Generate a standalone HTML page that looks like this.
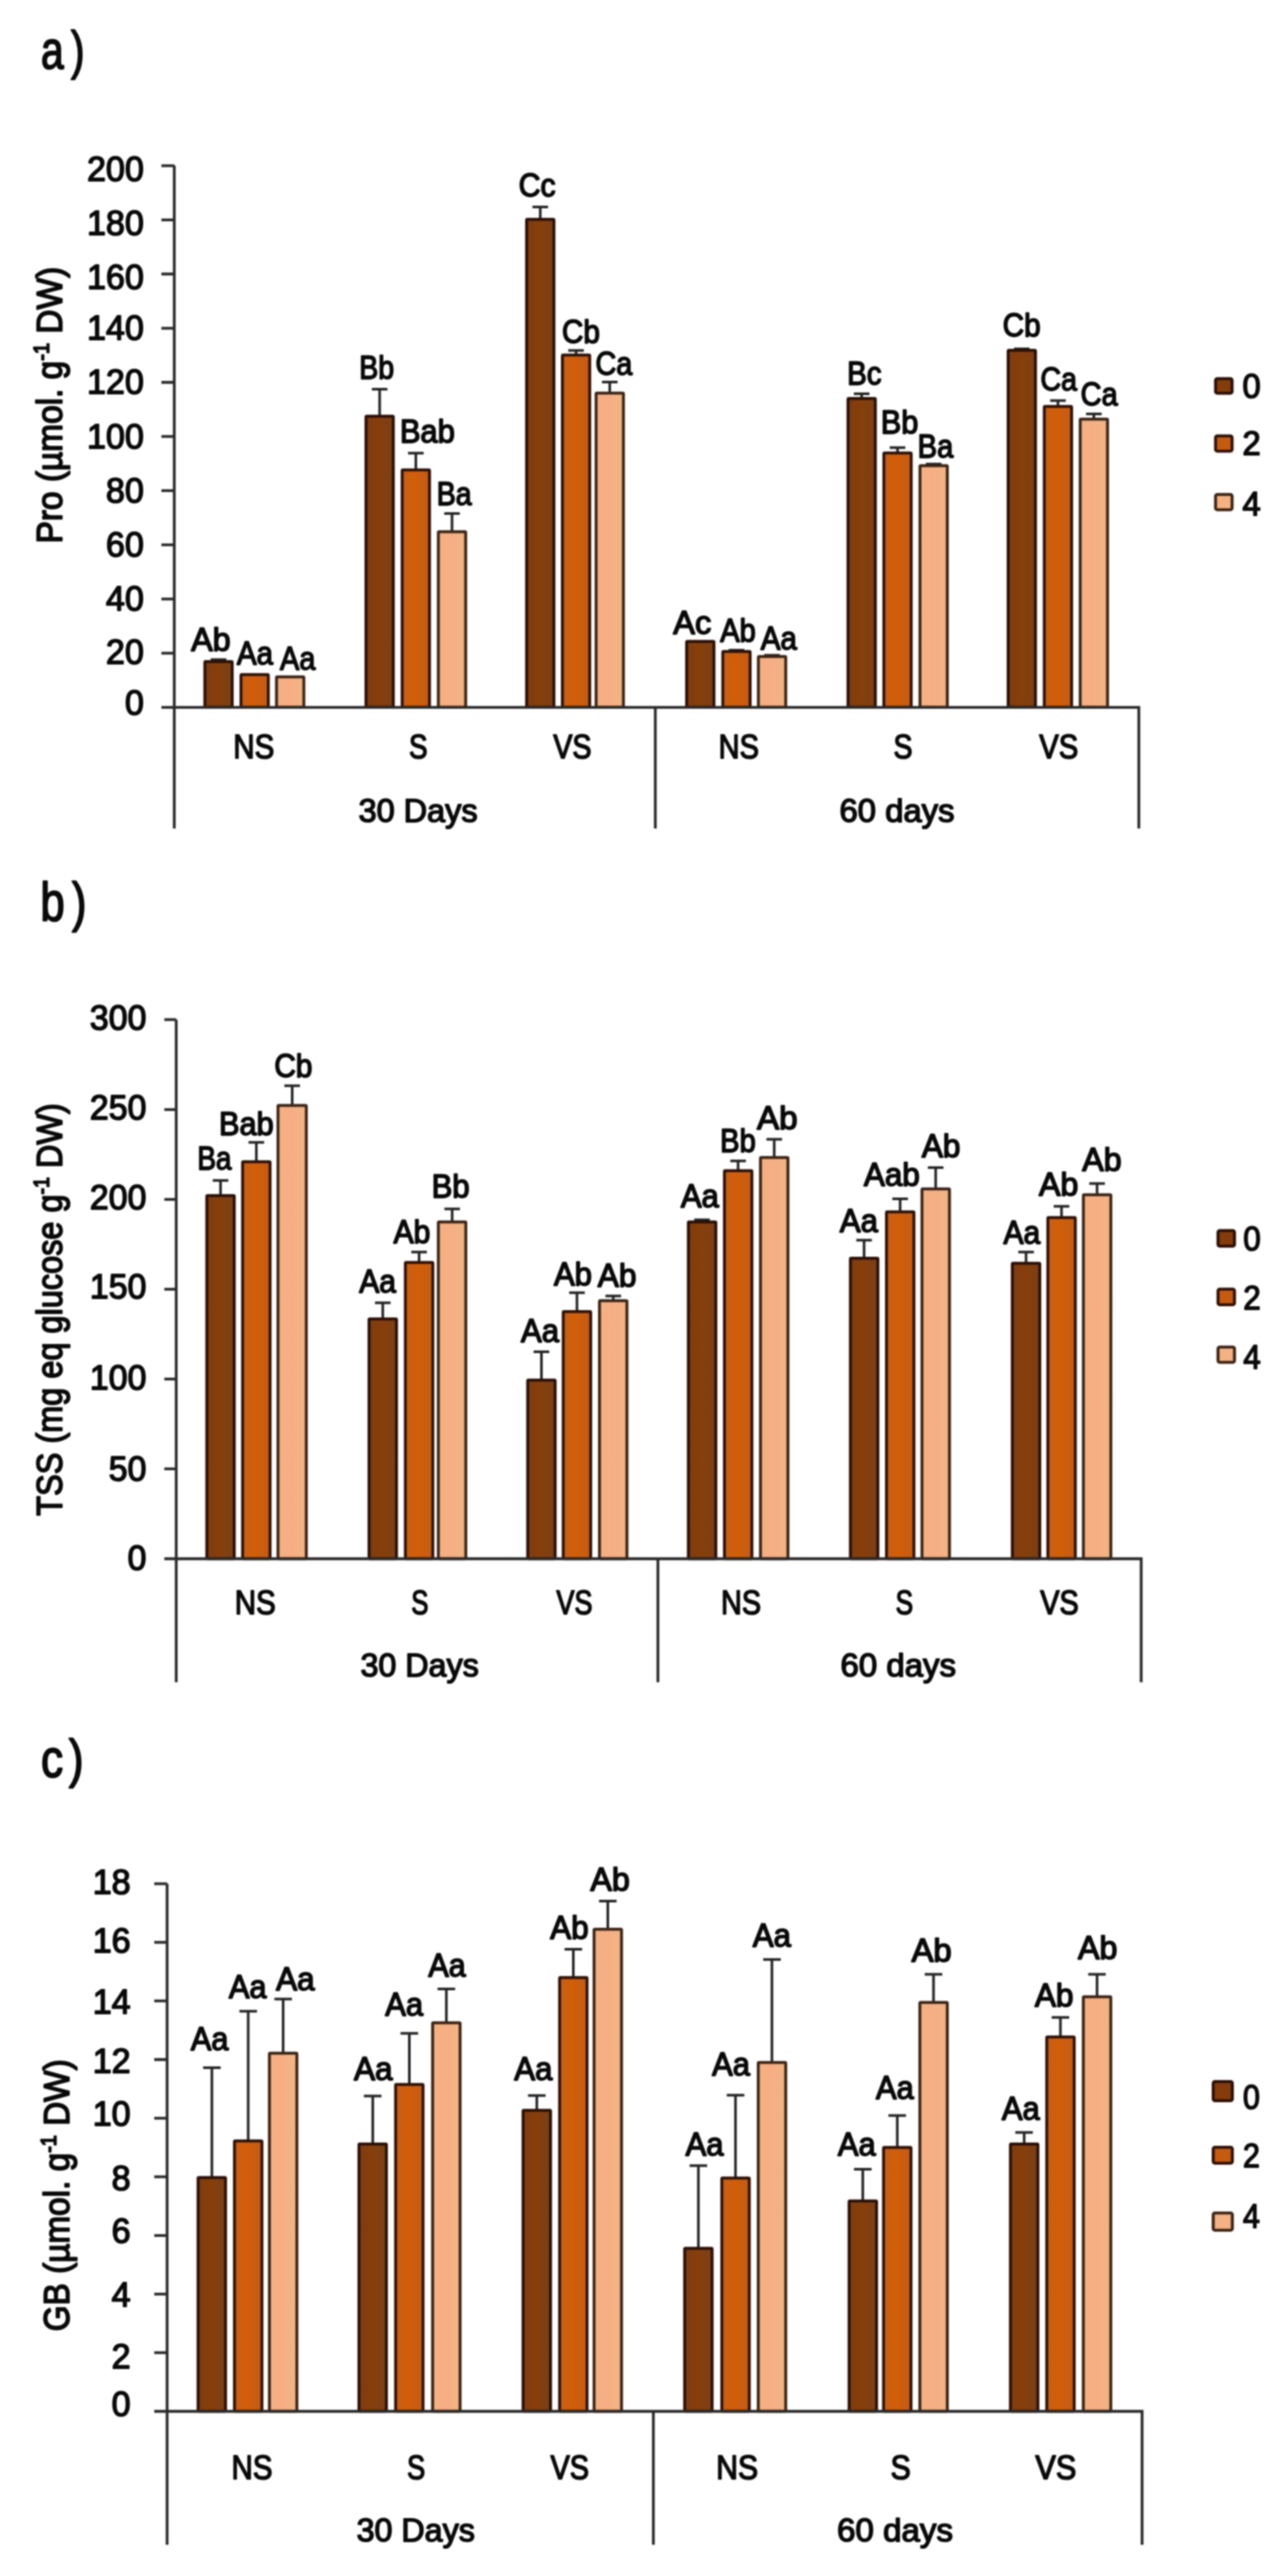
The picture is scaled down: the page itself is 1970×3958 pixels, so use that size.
<!DOCTYPE html>
<html lang="en"><head><meta charset="utf-8"><title>Pro, TSS and GB bar charts</title>
<style>
html,body{margin:0;padding:0;background:#fff;}
body{width:1970px;height:3958px;font-family:"Liberation Sans", sans-serif;}
svg{display:block;}
.t{font-family:"Liberation Sans", sans-serif;fill:#0a0a0a;stroke:#0a0a0a;stroke-width:2.2px;stroke-linejoin:round;}
.big{stroke-width:2.6px;}
.ax{fill:none;stroke:#2b2b2b;stroke-width:4.3;}
.eb{fill:none;stroke:#242424;stroke-width:4;}
.ttl{stroke-width:2.4px;}
.dl{stroke-width:2.3px;}
</style></head><body>
<svg width="1970" height="3958" viewBox="0 0 1970 3958">
<defs>
<linearGradient id="g0" x1="0" x2="1" y1="0" y2="0"><stop offset="0" stop-color="#7d3c12"/><stop offset="0.45" stop-color="#873f0a"/><stop offset="1" stop-color="#7a4018"/></linearGradient>
<linearGradient id="g1" x1="0" x2="1" y1="0" y2="0"><stop offset="0" stop-color="#c4601c"/><stop offset="0.4" stop-color="#d25e08"/><stop offset="1" stop-color="#c35d17"/></linearGradient>
<linearGradient id="g2" x1="0" x2="1" y1="0" y2="0"><stop offset="0" stop-color="#f2b283"/><stop offset="0.45" stop-color="#f7ad84"/><stop offset="1" stop-color="#f0b585"/></linearGradient>
<filter id="soft" filterUnits="userSpaceOnUse" x="0" y="0" width="1970" height="3958" color-interpolation-filters="sRGB"><feGaussianBlur stdDeviation="1.0"/></filter>
</defs>
<rect width="1970" height="3958" fill="#fff"/>
<g filter="url(#soft)">
<text class="t big" transform="translate(63.0,104.5) scale(0.765,1)" x="0 60.1" y="0" font-size="82">a)</text>
<text class="t big" transform="translate(62.0,1415.0) scale(0.81,1)" x="0 59.9" y="0" font-size="83">b)</text>
<text class="t big" transform="translate(63.0,2729.7) scale(0.83,1)" x="0 51.6" y="0" font-size="82">c)</text>
<text class="t ttl" transform="translate(95.0,835.0) rotate(-90)" font-size="55" textLength="425.0" lengthAdjust="spacingAndGlyphs">Pro (µmol. g<tspan font-size="33" dy="-20">-1</tspan><tspan dy="20"> </tspan>DW)</text>
<text class="t ttl" transform="translate(95.0,2329.0) rotate(-90)" font-size="55" textLength="634.0" lengthAdjust="spacingAndGlyphs">TSS (mg eq glucose g<tspan font-size="33" dy="-20">-1</tspan><tspan dy="20"> </tspan>DW)</text>
<text class="t ttl" transform="translate(106.0,3582.0) rotate(-90)" font-size="55" textLength="418.0" lengthAdjust="spacingAndGlyphs">GB (µmol. g<tspan font-size="33" dy="-20">-1</tspan><tspan dy="20"> </tspan>DW)</text>
<path class="eb" d="M335.8 1016.2V1013.5M323.8 1013.5h24.0"/>
<rect x="314.8" y="1016.5" width="42.0" height="70.3" rx="1.2" fill="url(#g0)" stroke="#2b0f06" stroke-width="4.5"/>
<rect x="370.3" y="1036.5" width="42.0" height="50.3" rx="1.2" fill="url(#g1)" stroke="#2f1106" stroke-width="4.5"/>
<rect x="424.9" y="1040.0" width="42.0" height="46.8" rx="1.2" fill="url(#g2)" stroke="#3d2415" stroke-width="4.5"/>
<path class="eb" d="M583.4 639.2V598.0M571.4 598.0h24.0"/>
<rect x="562.4" y="639.5" width="42.0" height="447.3" rx="1.2" fill="url(#g0)" stroke="#2b0f06" stroke-width="4.5"/>
<path class="eb" d="M639.0 721.8V696.3M627.0 696.3h24.0"/>
<rect x="618.0" y="722.1" width="42.0" height="364.7" rx="1.2" fill="url(#g1)" stroke="#2f1106" stroke-width="4.5"/>
<path class="eb" d="M694.6 816.6V789.0M682.6 789.0h24.0"/>
<rect x="673.6" y="816.9" width="42.0" height="269.9" rx="1.2" fill="url(#g2)" stroke="#3d2415" stroke-width="4.5"/>
<path class="eb" d="M830.2 336.9V318.0M818.2 318.0h24.0"/>
<rect x="809.2" y="337.1" width="42.0" height="749.6" rx="1.2" fill="url(#g0)" stroke="#2b0f06" stroke-width="4.5"/>
<path class="eb" d="M885.2 545.2V538.4M873.2 538.4h24.0"/>
<rect x="864.2" y="545.5" width="42.0" height="541.3" rx="1.2" fill="url(#g1)" stroke="#2f1106" stroke-width="4.5"/>
<path class="eb" d="M937.0 603.7V587.0M925.0 587.0h24.0"/>
<rect x="916.0" y="604.0" width="42.0" height="482.8" rx="1.2" fill="url(#g2)" stroke="#3d2415" stroke-width="4.5"/>
<rect x="1055.1" y="985.5" width="42.0" height="101.3" rx="1.2" fill="url(#g0)" stroke="#2b0f06" stroke-width="4.5"/>
<path class="eb" d="M1131.7 1000.7V999.0M1119.7 999.0h24.0"/>
<rect x="1110.7" y="1001.0" width="42.0" height="85.8" rx="1.2" fill="url(#g1)" stroke="#2f1106" stroke-width="4.5"/>
<path class="eb" d="M1186.4 1008.5V1006.7M1174.4 1006.7h24.0"/>
<rect x="1165.4" y="1008.8" width="42.0" height="78.0" rx="1.2" fill="url(#g2)" stroke="#3d2415" stroke-width="4.5"/>
<path class="eb" d="M1324.1 611.9V605.0M1312.1 605.0h24.0"/>
<rect x="1303.1" y="612.2" width="42.0" height="474.6" rx="1.2" fill="url(#g0)" stroke="#2b0f06" stroke-width="4.5"/>
<path class="eb" d="M1379.2 695.7V687.7M1367.2 687.7h24.0"/>
<rect x="1358.2" y="696.0" width="42.0" height="390.8" rx="1.2" fill="url(#g1)" stroke="#2f1106" stroke-width="4.5"/>
<path class="eb" d="M1434.7 715.2V713.0M1422.7 713.0h24.0"/>
<rect x="1413.7" y="715.5" width="42.0" height="371.3" rx="1.2" fill="url(#g2)" stroke="#3d2415" stroke-width="4.5"/>
<path class="eb" d="M1570.2 537.9V536.0M1558.2 536.0h24.0"/>
<rect x="1549.2" y="538.2" width="42.0" height="548.6" rx="1.2" fill="url(#g0)" stroke="#2b0f06" stroke-width="4.5"/>
<path class="eb" d="M1625.7 624.2V615.4M1613.7 615.4h24.0"/>
<rect x="1604.7" y="624.5" width="42.0" height="462.3" rx="1.2" fill="url(#g1)" stroke="#2f1106" stroke-width="4.5"/>
<path class="eb" d="M1680.9 643.7V636.0M1668.9 636.0h24.0"/>
<rect x="1659.9" y="644.0" width="42.0" height="442.8" rx="1.2" fill="url(#g2)" stroke="#3d2415" stroke-width="4.5"/>
<path class="ax" d="M267.8 254.3V1273.0M248.0 1086.8H1750.0V1273.0M1007.0 1086.8V1273.0"/>
<path class="ax" d="M248.0 1003.6H267.8M248.0 920.4H267.8M248.0 837.1H267.8M248.0 753.9H267.8M248.0 670.7H267.8M248.0 587.5H267.8M248.0 504.3H267.8M248.0 421.0H267.8M248.0 337.8H267.8M248.0 254.6H267.8"/>
<text class="t" x="191.9" y="1098.3" font-size="54" textLength="29.1" lengthAdjust="spacingAndGlyphs">0</text>
<text class="t" x="162.8" y="1019.7" font-size="54" textLength="58.2" lengthAdjust="spacingAndGlyphs">20</text>
<text class="t" x="162.8" y="937.5" font-size="54" textLength="58.2" lengthAdjust="spacingAndGlyphs">40</text>
<text class="t" x="162.8" y="854.5" font-size="54" textLength="58.2" lengthAdjust="spacingAndGlyphs">60</text>
<text class="t" x="162.8" y="772.3" font-size="54" textLength="58.2" lengthAdjust="spacingAndGlyphs">80</text>
<text class="t" x="133.7" y="688.7" font-size="54" textLength="87.3" lengthAdjust="spacingAndGlyphs">100</text>
<text class="t" x="133.7" y="605.2" font-size="54" textLength="87.3" lengthAdjust="spacingAndGlyphs">120</text>
<text class="t" x="133.7" y="522.4" font-size="54" textLength="87.3" lengthAdjust="spacingAndGlyphs">140</text>
<text class="t" x="133.7" y="444.0" font-size="54" textLength="87.3" lengthAdjust="spacingAndGlyphs">160</text>
<text class="t" x="133.7" y="360.5" font-size="54" textLength="87.3" lengthAdjust="spacingAndGlyphs">180</text>
<text class="t" x="133.7" y="277.6" font-size="54" textLength="87.3" lengthAdjust="spacingAndGlyphs">200</text>
<text class="t dl" x="293.8" y="1000.0" font-size="49.5" textLength="60.6" lengthAdjust="spacingAndGlyphs">Ab</text>
<text class="t dl" x="364.0" y="1021.0" font-size="49.5" textLength="55.5" lengthAdjust="spacingAndGlyphs">Aa</text>
<text class="t dl" x="430.3" y="1029.0" font-size="49.5" textLength="54.3" lengthAdjust="spacingAndGlyphs">Aa</text>
<text class="t dl" x="552.0" y="582.4" font-size="49.5" textLength="53.5" lengthAdjust="spacingAndGlyphs">Bb</text>
<text class="t dl" x="614.4" y="680.0" font-size="49.5" textLength="84.6" lengthAdjust="spacingAndGlyphs">Bab</text>
<text class="t dl" x="671.0" y="775.5" font-size="49.5" textLength="53.8" lengthAdjust="spacingAndGlyphs">Ba</text>
<text class="t dl" x="797.0" y="302.4" font-size="49.5" textLength="56.8" lengthAdjust="spacingAndGlyphs">Cc</text>
<text class="t dl" x="863.5" y="526.7" font-size="49.5" textLength="58.2" lengthAdjust="spacingAndGlyphs">Cb</text>
<text class="t dl" x="915.0" y="576.0" font-size="49.5" textLength="56.6" lengthAdjust="spacingAndGlyphs">Ca</text>
<text class="t dl" x="1034.6" y="974.4" font-size="49.5" textLength="58.4" lengthAdjust="spacingAndGlyphs">Ac</text>
<text class="t dl" x="1106.8" y="986.0" font-size="49.5" textLength="54.6" lengthAdjust="spacingAndGlyphs">Ab</text>
<text class="t dl" x="1169.0" y="997.8" font-size="49.5" textLength="55.6" lengthAdjust="spacingAndGlyphs">Aa</text>
<text class="t dl" x="1301.8" y="591.0" font-size="49.5" textLength="52.7" lengthAdjust="spacingAndGlyphs">Bc</text>
<text class="t dl" x="1353.6" y="666.3" font-size="49.5" textLength="57.4" lengthAdjust="spacingAndGlyphs">Bb</text>
<text class="t dl" x="1410.0" y="702.5" font-size="49.5" textLength="54.8" lengthAdjust="spacingAndGlyphs">Ba</text>
<text class="t dl" x="1540.8" y="517.0" font-size="49.5" textLength="58.2" lengthAdjust="spacingAndGlyphs">Cb</text>
<text class="t dl" x="1598.8" y="600.4" font-size="49.5" textLength="56.2" lengthAdjust="spacingAndGlyphs">Ca</text>
<text class="t dl" x="1660.6" y="622.9" font-size="49.5" textLength="57.0" lengthAdjust="spacingAndGlyphs">Ca</text>
<text class="t" x="358.5" y="1164.5" font-size="51" textLength="63.0" lengthAdjust="spacingAndGlyphs">NS</text>
<text class="t" x="628.5" y="1164.5" font-size="51" textLength="28.5" lengthAdjust="spacingAndGlyphs">S</text>
<text class="t" x="850.2" y="1164.5" font-size="51" textLength="58.8" lengthAdjust="spacingAndGlyphs">VS</text>
<text class="t" x="1104.3" y="1164.5" font-size="51" textLength="62.0" lengthAdjust="spacingAndGlyphs">NS</text>
<text class="t" x="1373.0" y="1164.5" font-size="51" textLength="29.2" lengthAdjust="spacingAndGlyphs">S</text>
<text class="t" x="1597.1" y="1164.5" font-size="51" textLength="59.8" lengthAdjust="spacingAndGlyphs">VS</text>
<text class="t" x="551.0" y="1262.5" font-size="50" textLength="183.0" lengthAdjust="spacingAndGlyphs">30 Days</text>
<text class="t" x="1290.0" y="1262.5" font-size="50" textLength="176.8" lengthAdjust="spacingAndGlyphs">60 days</text>
<rect x="1867.9" y="581.8" width="25.4" height="22.4" rx="2.5" fill="#843C0C" stroke="#2b0f06" stroke-width="4.6"/>
<text class="t" x="1909.3" y="610.5" font-size="52" textLength="28.0" lengthAdjust="spacingAndGlyphs">0</text>
<rect x="1867.9" y="669.8" width="25.4" height="23.4" rx="2.5" fill="#C55A11" stroke="#2f1106" stroke-width="4.6"/>
<text class="t" x="1909.3" y="699.0" font-size="52" textLength="28.0" lengthAdjust="spacingAndGlyphs">2</text>
<rect x="1867.9" y="759.8" width="25.4" height="23.4" rx="2.5" fill="#F4B183" stroke="#3d2415" stroke-width="4.6"/>
<text class="t" x="1909.3" y="791.9" font-size="52" textLength="28.0" lengthAdjust="spacingAndGlyphs">4</text>
<path class="eb" d="M338.9 1836.8V1813.7M326.9 1813.7h24.0"/>
<rect x="317.8" y="1837.0" width="42.2" height="558.0" rx="1.2" fill="url(#g0)" stroke="#2b0f06" stroke-width="4.5"/>
<path class="eb" d="M393.9 1784.8V1755.2M381.9 1755.2h24.0"/>
<rect x="372.8" y="1785.0" width="42.2" height="610.0" rx="1.2" fill="url(#g1)" stroke="#2f1106" stroke-width="4.5"/>
<path class="eb" d="M449.0 1698.2V1668.3M437.0 1668.3h24.0"/>
<rect x="427.2" y="1698.5" width="43.5" height="696.5" rx="1.2" fill="url(#g2)" stroke="#3d2415" stroke-width="4.5"/>
<path class="eb" d="M588.2 2026.1V2001.7M576.2 2001.7h24.0"/>
<rect x="567.1" y="2026.4" width="42.2" height="368.6" rx="1.2" fill="url(#g0)" stroke="#2b0f06" stroke-width="4.5"/>
<path class="eb" d="M644.0 1939.5V1923.7M632.0 1923.7h24.0"/>
<rect x="622.9" y="1939.8" width="42.2" height="455.2" rx="1.2" fill="url(#g1)" stroke="#2f1106" stroke-width="4.5"/>
<path class="eb" d="M694.8 1877.1V1857.4M682.8 1857.4h24.0"/>
<rect x="673.6" y="1877.4" width="42.2" height="517.6" rx="1.2" fill="url(#g2)" stroke="#3d2415" stroke-width="4.5"/>
<path class="eb" d="M832.0 2120.2V2077.0M820.0 2077.0h24.0"/>
<rect x="810.9" y="2120.4" width="42.2" height="274.6" rx="1.2" fill="url(#g0)" stroke="#2b0f06" stroke-width="4.5"/>
<path class="eb" d="M886.6 2014.9V1986.2M874.6 1986.2h24.0"/>
<rect x="865.5" y="2015.2" width="42.2" height="379.8" rx="1.2" fill="url(#g1)" stroke="#2f1106" stroke-width="4.5"/>
<path class="eb" d="M942.4 1998.1V1991.3M930.4 1991.3h24.0"/>
<rect x="921.2" y="1998.4" width="42.2" height="396.6" rx="1.2" fill="url(#g2)" stroke="#3d2415" stroke-width="4.5"/>
<path class="eb" d="M1078.8 1877.2V1874.3M1066.8 1874.3h24.0"/>
<rect x="1057.8" y="1877.5" width="42.2" height="517.5" rx="1.2" fill="url(#g0)" stroke="#2b0f06" stroke-width="4.5"/>
<path class="eb" d="M1134.2 1798.4V1783.8M1122.2 1783.8h24.0"/>
<rect x="1113.2" y="1798.7" width="42.2" height="596.3" rx="1.2" fill="url(#g1)" stroke="#2f1106" stroke-width="4.5"/>
<path class="eb" d="M1189.7 1778.2V1750.6M1177.7 1750.6h24.0"/>
<rect x="1168.6" y="1778.5" width="42.2" height="616.5" rx="1.2" fill="url(#g2)" stroke="#3d2415" stroke-width="4.5"/>
<path class="eb" d="M1327.8 1932.9V1905.4M1315.8 1905.4h24.0"/>
<rect x="1306.8" y="1933.2" width="42.2" height="461.8" rx="1.2" fill="url(#g0)" stroke="#2b0f06" stroke-width="4.5"/>
<path class="eb" d="M1383.2 1861.6V1841.9M1371.2 1841.9h24.0"/>
<rect x="1362.2" y="1861.9" width="42.2" height="533.1" rx="1.2" fill="url(#g1)" stroke="#2f1106" stroke-width="4.5"/>
<path class="eb" d="M1437.8 1826.5V1793.9M1425.8 1793.9h24.0"/>
<rect x="1416.8" y="1826.8" width="42.2" height="568.2" rx="1.2" fill="url(#g2)" stroke="#3d2415" stroke-width="4.5"/>
<path class="eb" d="M1576.7 1940.7V1923.8M1564.7 1923.8h24.0"/>
<rect x="1555.6" y="1941.0" width="42.2" height="454.0" rx="1.2" fill="url(#g0)" stroke="#2b0f06" stroke-width="4.5"/>
<path class="eb" d="M1631.2 1870.5V1853.6M1619.2 1853.6h24.0"/>
<rect x="1610.2" y="1870.8" width="42.2" height="524.2" rx="1.2" fill="url(#g1)" stroke="#2f1106" stroke-width="4.5"/>
<path class="eb" d="M1685.8 1835.4V1818.5M1673.8 1818.5h24.0"/>
<rect x="1664.8" y="1835.7" width="42.2" height="559.3" rx="1.2" fill="url(#g2)" stroke="#3d2415" stroke-width="4.5"/>
<path class="ax" d="M270.8 1566.8V2584.7M252.5 2395.0H1753.6V2584.7M1011.0 2395.0V2584.7"/>
<path class="ax" d="M252.5 2256.9H270.8M252.5 2118.9H270.8M252.5 1980.8H270.8M252.5 1842.8H270.8M252.5 1704.8H270.8M252.5 1566.7H270.8"/>
<text class="t" x="196.0" y="2412.4" font-size="54" textLength="29.0" lengthAdjust="spacingAndGlyphs">0</text>
<text class="t" x="167.0" y="2274.6" font-size="54" textLength="58.0" lengthAdjust="spacingAndGlyphs">50</text>
<text class="t" x="138.0" y="2135.0" font-size="54" textLength="87.0" lengthAdjust="spacingAndGlyphs">100</text>
<text class="t" x="138.0" y="1995.4" font-size="54" textLength="87.0" lengthAdjust="spacingAndGlyphs">150</text>
<text class="t" x="138.0" y="1858.3" font-size="54" textLength="87.0" lengthAdjust="spacingAndGlyphs">200</text>
<text class="t" x="138.0" y="1719.9" font-size="54" textLength="87.0" lengthAdjust="spacingAndGlyphs">250</text>
<text class="t" x="138.0" y="1582.4" font-size="54" textLength="87.0" lengthAdjust="spacingAndGlyphs">300</text>
<text class="t dl" x="303.2" y="1797.4" font-size="49.5" textLength="52.6" lengthAdjust="spacingAndGlyphs">Ba</text>
<text class="t dl" x="336.4" y="1743.6" font-size="49.5" textLength="84.1" lengthAdjust="spacingAndGlyphs">Bab</text>
<text class="t dl" x="421.4" y="1654.6" font-size="49.5" textLength="58.6" lengthAdjust="spacingAndGlyphs">Cb</text>
<text class="t dl" x="552.0" y="1986.0" font-size="49.5" textLength="56.6" lengthAdjust="spacingAndGlyphs">Aa</text>
<text class="t dl" x="604.7" y="1910.0" font-size="49.5" textLength="56.6" lengthAdjust="spacingAndGlyphs">Ab</text>
<text class="t dl" x="663.2" y="1839.9" font-size="49.5" textLength="58.5" lengthAdjust="spacingAndGlyphs">Bb</text>
<text class="t dl" x="800.5" y="2061.5" font-size="49.5" textLength="58.5" lengthAdjust="spacingAndGlyphs">Aa</text>
<text class="t dl" x="851.2" y="1974.5" font-size="49.5" textLength="58.5" lengthAdjust="spacingAndGlyphs">Ab</text>
<text class="t dl" x="918.6" y="1976.8" font-size="49.5" textLength="59.4" lengthAdjust="spacingAndGlyphs">Ab</text>
<text class="t dl" x="1046.2" y="1854.8" font-size="49.5" textLength="58.5" lengthAdjust="spacingAndGlyphs">Aa</text>
<text class="t dl" x="1106.6" y="1770.0" font-size="49.5" textLength="54.7" lengthAdjust="spacingAndGlyphs">Bb</text>
<text class="t dl" x="1163.2" y="1735.0" font-size="49.5" textLength="62.4" lengthAdjust="spacingAndGlyphs">Ab</text>
<text class="t dl" x="1290.5" y="1892.6" font-size="49.5" textLength="58.5" lengthAdjust="spacingAndGlyphs">Aa</text>
<text class="t dl" x="1327.5" y="1822.4" font-size="49.5" textLength="85.9" lengthAdjust="spacingAndGlyphs">Aab</text>
<text class="t dl" x="1416.4" y="1778.3" font-size="49.5" textLength="59.4" lengthAdjust="spacingAndGlyphs">Ab</text>
<text class="t dl" x="1542.0" y="1910.9" font-size="49.5" textLength="56.6" lengthAdjust="spacingAndGlyphs">Aa</text>
<text class="t dl" x="1596.6" y="1836.8" font-size="49.5" textLength="60.5" lengthAdjust="spacingAndGlyphs">Ab</text>
<text class="t dl" x="1662.9" y="1799.0" font-size="49.5" textLength="60.5" lengthAdjust="spacingAndGlyphs">Ab</text>
<text class="t" x="360.8" y="2479.8" font-size="51" textLength="62.9" lengthAdjust="spacingAndGlyphs">NS</text>
<text class="t" x="631.9" y="2479.8" font-size="51" textLength="26.4" lengthAdjust="spacingAndGlyphs">S</text>
<text class="t" x="855.0" y="2479.8" font-size="51" textLength="55.4" lengthAdjust="spacingAndGlyphs">VS</text>
<text class="t" x="1108.1" y="2479.8" font-size="51" textLength="61.4" lengthAdjust="spacingAndGlyphs">NS</text>
<text class="t" x="1376.2" y="2479.8" font-size="51" textLength="26.9" lengthAdjust="spacingAndGlyphs">S</text>
<text class="t" x="1598.5" y="2479.8" font-size="51" textLength="59.2" lengthAdjust="spacingAndGlyphs">VS</text>
<text class="t" x="554.0" y="2575.7" font-size="50" textLength="181.7" lengthAdjust="spacingAndGlyphs">30 Days</text>
<text class="t" x="1291.5" y="2575.7" font-size="50" textLength="177.5" lengthAdjust="spacingAndGlyphs">60 days</text>
<rect x="1871.7" y="1890.8" width="25.3" height="23.9" rx="2.5" fill="#843C0C" stroke="#2b0f06" stroke-width="4.6"/>
<text class="t" x="1910.5" y="1921.1" font-size="52" textLength="26.8" lengthAdjust="spacingAndGlyphs">0</text>
<rect x="1871.7" y="1980.8" width="25.3" height="23.9" rx="2.5" fill="#C55A11" stroke="#2f1106" stroke-width="4.6"/>
<text class="t" x="1910.5" y="2012.1" font-size="52" textLength="26.8" lengthAdjust="spacingAndGlyphs">2</text>
<rect x="1871.7" y="2069.8" width="25.3" height="23.4" rx="2.5" fill="#F4B183" stroke="#3d2415" stroke-width="4.6"/>
<text class="t" x="1910.5" y="2103.0" font-size="52" textLength="26.8" lengthAdjust="spacingAndGlyphs">4</text>
<path class="eb" d="M325.6 3345.6V3176.9M312.1 3176.9h27.0"/>
<rect x="304.4" y="3345.8" width="42.2" height="359.2" rx="1.2" fill="url(#g0)" stroke="#2b0f06" stroke-width="4.5"/>
<path class="eb" d="M381.4 3289.4V3090.3M367.9 3090.3h27.0"/>
<rect x="360.3" y="3289.6" width="42.2" height="415.4" rx="1.2" fill="url(#g1)" stroke="#2f1106" stroke-width="4.5"/>
<path class="eb" d="M435.1 3154.5V3071.6M421.6 3071.6h27.0"/>
<rect x="414.0" y="3154.8" width="42.2" height="550.2" rx="1.2" fill="url(#g2)" stroke="#3d2415" stroke-width="4.5"/>
<path class="eb" d="M572.8 3294.1V3220.6M559.2 3220.6h27.0"/>
<rect x="551.6" y="3294.3" width="42.2" height="410.7" rx="1.2" fill="url(#g0)" stroke="#2b0f06" stroke-width="4.5"/>
<path class="eb" d="M629.0 3202.5V3124.3M615.5 3124.3h27.0"/>
<rect x="607.9" y="3202.8" width="42.2" height="502.2" rx="1.2" fill="url(#g1)" stroke="#2f1106" stroke-width="4.5"/>
<path class="eb" d="M685.9 3107.7V3056.0M672.4 3056.0h27.0"/>
<rect x="664.8" y="3107.9" width="42.2" height="597.1" rx="1.2" fill="url(#g2)" stroke="#3d2415" stroke-width="4.5"/>
<path class="eb" d="M824.9 3242.2V3219.7M811.4 3219.7h27.0"/>
<rect x="803.8" y="3242.4" width="42.2" height="462.6" rx="1.2" fill="url(#g0)" stroke="#2b0f06" stroke-width="4.5"/>
<path class="eb" d="M881.0 3038.2V2995.1M867.5 2995.1h27.0"/>
<rect x="859.9" y="3038.4" width="42.2" height="666.6" rx="1.2" fill="url(#g1)" stroke="#2f1106" stroke-width="4.5"/>
<path class="eb" d="M934.0 2964.1V2921.0M920.5 2921.0h27.0"/>
<rect x="912.9" y="2964.3" width="42.2" height="740.7" rx="1.2" fill="url(#g2)" stroke="#3d2415" stroke-width="4.5"/>
<path class="eb" d="M1073.2 3454.3V3327.5M1059.7 3327.5h27.0"/>
<rect x="1052.1" y="3454.5" width="42.2" height="250.5" rx="1.2" fill="url(#g0)" stroke="#2b0f06" stroke-width="4.5"/>
<path class="eb" d="M1130.2 3346.2V3219.3M1116.8 3219.3h27.0"/>
<rect x="1109.2" y="3346.4" width="42.2" height="358.6" rx="1.2" fill="url(#g1)" stroke="#2f1106" stroke-width="4.5"/>
<path class="eb" d="M1186.2 3168.8V3010.7M1172.8 3010.7h27.0"/>
<rect x="1165.2" y="3169.0" width="42.2" height="536.0" rx="1.2" fill="url(#g2)" stroke="#3d2415" stroke-width="4.5"/>
<path class="eb" d="M1325.8 3381.5V3333.0M1312.3 3333.0h27.0"/>
<rect x="1304.8" y="3381.8" width="42.2" height="323.2" rx="1.2" fill="url(#g0)" stroke="#2b0f06" stroke-width="4.5"/>
<path class="eb" d="M1378.8 3299.4V3250.6M1365.2 3250.6h27.0"/>
<rect x="1357.7" y="3299.6" width="42.2" height="405.4" rx="1.2" fill="url(#g1)" stroke="#2f1106" stroke-width="4.5"/>
<path class="eb" d="M1434.5 3076.5V3033.4M1421.0 3033.4h27.0"/>
<rect x="1413.5" y="3076.8" width="42.2" height="628.2" rx="1.2" fill="url(#g2)" stroke="#3d2415" stroke-width="4.5"/>
<path class="eb" d="M1573.8 3294.1V3276.4M1560.2 3276.4h27.0"/>
<rect x="1552.7" y="3294.3" width="42.2" height="410.7" rx="1.2" fill="url(#g0)" stroke="#2b0f06" stroke-width="4.5"/>
<path class="eb" d="M1629.5 3129.5V3099.7M1616.0 3099.7h27.0"/>
<rect x="1608.5" y="3129.8" width="42.2" height="575.2" rx="1.2" fill="url(#g1)" stroke="#2f1106" stroke-width="4.5"/>
<path class="eb" d="M1685.8 3067.9V3033.4M1672.2 3033.4h27.0"/>
<rect x="1664.7" y="3068.1" width="42.2" height="636.9" rx="1.2" fill="url(#g2)" stroke="#3d2415" stroke-width="4.5"/>
<path class="ax" d="M256.8 2894.3V3910.0M237.0 3705.0H1755.0V3910.0M1004.0 3705.0V3910.0"/>
<path class="ax" d="M237.0 3614.9H256.8M237.0 3524.8H256.8M237.0 3434.8H256.8M237.0 3344.7H256.8M237.0 3254.6H256.8M237.0 3164.5H256.8M237.0 3074.4H256.8M237.0 2984.4H256.8M237.0 2894.3H256.8"/>
<text class="t" x="171.6" y="3711.6" font-size="54" textLength="29.2" lengthAdjust="spacingAndGlyphs">0</text>
<text class="t" x="171.6" y="3638.8" font-size="54" textLength="29.2" lengthAdjust="spacingAndGlyphs">2</text>
<text class="t" x="171.6" y="3544.4" font-size="54" textLength="29.2" lengthAdjust="spacingAndGlyphs">4</text>
<text class="t" x="171.6" y="3445.7" font-size="54" textLength="29.2" lengthAdjust="spacingAndGlyphs">6</text>
<text class="t" x="171.6" y="3365.3" font-size="54" textLength="29.2" lengthAdjust="spacingAndGlyphs">8</text>
<text class="t" x="142.4" y="3266.2" font-size="54" textLength="58.4" lengthAdjust="spacingAndGlyphs">10</text>
<text class="t" x="142.4" y="3185.3" font-size="54" textLength="58.4" lengthAdjust="spacingAndGlyphs">12</text>
<text class="t" x="142.4" y="3094.0" font-size="54" textLength="58.4" lengthAdjust="spacingAndGlyphs">14</text>
<text class="t" x="142.4" y="3000.1" font-size="54" textLength="58.4" lengthAdjust="spacingAndGlyphs">16</text>
<text class="t" x="142.4" y="2910.0" font-size="54" textLength="58.4" lengthAdjust="spacingAndGlyphs">18</text>
<text class="t dl" x="293.2" y="3149.6" font-size="49.5" textLength="57.8" lengthAdjust="spacingAndGlyphs">Aa</text>
<text class="t dl" x="351.7" y="3069.7" font-size="49.5" textLength="57.8" lengthAdjust="spacingAndGlyphs">Aa</text>
<text class="t dl" x="424.2" y="3058.0" font-size="49.5" textLength="59.4" lengthAdjust="spacingAndGlyphs">Aa</text>
<text class="t dl" x="544.0" y="3196.4" font-size="49.5" textLength="59.3" lengthAdjust="spacingAndGlyphs">Aa</text>
<text class="t dl" x="592.0" y="3097.0" font-size="49.5" textLength="58.1" lengthAdjust="spacingAndGlyphs">Aa</text>
<text class="t dl" x="658.2" y="3037.3" font-size="49.5" textLength="57.4" lengthAdjust="spacingAndGlyphs">Aa</text>
<text class="t dl" x="790.2" y="3196.3" font-size="49.5" textLength="58.6" lengthAdjust="spacingAndGlyphs">Aa</text>
<text class="t dl" x="845.6" y="2978.7" font-size="49.5" textLength="58.9" lengthAdjust="spacingAndGlyphs">Ab</text>
<text class="t dl" x="907.2" y="2904.6" font-size="49.5" textLength="60.5" lengthAdjust="spacingAndGlyphs">Ab</text>
<text class="t dl" x="1053.4" y="3312.4" font-size="49.5" textLength="58.4" lengthAdjust="spacingAndGlyphs">Aa</text>
<text class="t dl" x="1094.3" y="3188.7" font-size="49.5" textLength="58.0" lengthAdjust="spacingAndGlyphs">Aa</text>
<text class="t dl" x="1156.8" y="2991.2" font-size="49.5" textLength="58.6" lengthAdjust="spacingAndGlyphs">Aa</text>
<text class="t dl" x="1287.5" y="3312.0" font-size="49.5" textLength="58.0" lengthAdjust="spacingAndGlyphs">Aa</text>
<text class="t dl" x="1346.0" y="3225.0" font-size="49.5" textLength="58.0" lengthAdjust="spacingAndGlyphs">Aa</text>
<text class="t dl" x="1400.7" y="3013.9" font-size="49.5" textLength="61.7" lengthAdjust="spacingAndGlyphs">Ab</text>
<text class="t dl" x="1539.5" y="3256.9" font-size="49.5" textLength="58.2" lengthAdjust="spacingAndGlyphs">Aa</text>
<text class="t dl" x="1590.2" y="3082.5" font-size="49.5" textLength="59.4" lengthAdjust="spacingAndGlyphs">Ab</text>
<text class="t dl" x="1656.5" y="3010.0" font-size="49.5" textLength="60.5" lengthAdjust="spacingAndGlyphs">Ab</text>
<text class="t" x="355.8" y="3808.8" font-size="51" textLength="62.9" lengthAdjust="spacingAndGlyphs">NS</text>
<text class="t" x="625.4" y="3808.8" font-size="51" textLength="27.9" lengthAdjust="spacingAndGlyphs">S</text>
<text class="t" x="846.0" y="3808.8" font-size="51" textLength="59.2" lengthAdjust="spacingAndGlyphs">VS</text>
<text class="t" x="1100.5" y="3808.8" font-size="51" textLength="64.5" lengthAdjust="spacingAndGlyphs">NS</text>
<text class="t" x="1368.5" y="3808.8" font-size="51" textLength="31.0" lengthAdjust="spacingAndGlyphs">S</text>
<text class="t" x="1591.1" y="3808.8" font-size="51" textLength="62.9" lengthAdjust="spacingAndGlyphs">VS</text>
<text class="t" x="548.0" y="3904.7" font-size="50" textLength="181.7" lengthAdjust="spacingAndGlyphs">30 Days</text>
<text class="t" x="1286.3" y="3904.7" font-size="50" textLength="178.2" lengthAdjust="spacingAndGlyphs">60 days</text>
<rect x="1864.3" y="3198.3" width="29.4" height="29.4" rx="2.5" fill="#843C0C" stroke="#2b0f06" stroke-width="4.6"/>
<text class="t" x="1909.9" y="3239.5" font-size="52" textLength="26.0" lengthAdjust="spacingAndGlyphs">0</text>
<rect x="1864.3" y="3299.3" width="29.4" height="24.4" rx="2.5" fill="#C55A11" stroke="#2f1106" stroke-width="4.6"/>
<text class="t" x="1909.9" y="3329.5" font-size="52" textLength="26.0" lengthAdjust="spacingAndGlyphs">2</text>
<rect x="1864.3" y="3400.3" width="29.4" height="26.4" rx="2.5" fill="#F4B183" stroke="#3d2415" stroke-width="4.6"/>
<text class="t" x="1909.9" y="3422.5" font-size="52" textLength="26.0" lengthAdjust="spacingAndGlyphs">4</text>
</g></svg></body></html>
